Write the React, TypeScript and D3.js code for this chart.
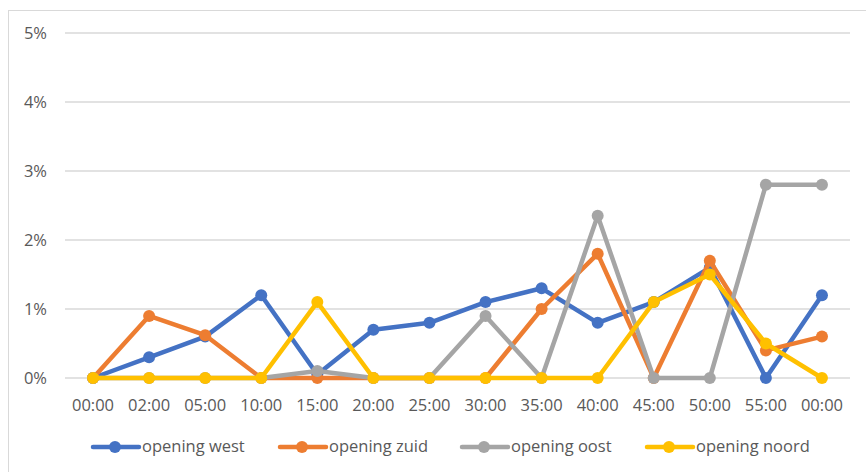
import React from "react";
import * as d3 from "d3";

const categories = ["00:00", "02:00", "05:00", "10:00", "15:00", "20:00", "25:00", "30:00", "35:00", "40:00", "45:00", "50:00", "55:00", "00:00"];
const seriesNames = ["opening west", "opening zuid", "opening oost", "opening noord"];
const west = [0, 0.3, 0.6, 1.2, 0.05, 0.7, 0.8, 1.1, 1.3, 0.8, 1.1, 1.6, 0, 1.2];
const zuid = [0, 0.9, 0.62, 0, 0, 0, 0, 0, 1.0, 1.8, 0, 1.7, 0.4, 0.6];
const oost = [0, 0, 0, 0, 0.1, 0, 0, 0.9, 0, 2.35, 0, 0, 2.8, 2.8];
const noord = [0, 0, 0, 0, 1.1, 0, 0, 0, 0, 0, 1.1, 1.5, 0.5, 0];
const yTicks = [0, 1, 2, 3, 4, 5];
const colors = ["#4472C4", "#ED7D31", "#A5A5A5", "#FFC000"];

const W = 866, H = 472;
const left = 65, right = 850, top = 33, bottom = 378;

export default function App() {
  const x = d3.scaleBand<number>().domain(d3.range(categories.length)).range([left, right]);
  const cx = (i: number) => (x(i) as number) + x.bandwidth() / 2;
  const y = d3.scaleLinear().domain([0, 5]).range([bottom, top]);
  const all = [west, zuid, oost, noord];
  const line = d3.line<number>().x((_, i) => cx(i)).y((d) => y(d));
  const font = "'Open Sans', 'Liberation Sans', sans-serif";
  const legendX = [93, 280, 462, 647];
  return (
    <svg width={W} height={H} style={{ position: "absolute", left: 0, top: 0 }}>
      <rect x={0} y={0} width={W} height={H} fill="#fff" />
      <rect x={8.5} y={10.5} width={W + 10} height={H + 10} fill="#fff" stroke="#d9d9d9" strokeWidth={1} />
      {yTicks.map((t) => (
        <g key={t}>
          <line x1={left} x2={right} y1={y(t)} y2={y(t)} stroke="#d9d9d9" strokeWidth={1.5} />
          <text x={47} y={y(t)} dy="0.35em" textAnchor="end" fontFamily={font} fontSize={16.5} fill="#595959">
            {t}%
          </text>
        </g>
      ))}
      {categories.map((c, i) => (
        <text key={i} x={cx(i)} y={405} dy="0.35em" textAnchor="middle" fontFamily={font} fontSize={16.5} fill="#595959">
          {c}
        </text>
      ))}
      {all.map((s, k) => (
        <g key={k}>
          <path d={line(s) || ""} fill="none" stroke={colors[k]} strokeWidth={4.5} strokeLinejoin="round" />
          {s.map((v, i) => (
            <circle key={i} cx={cx(i)} cy={y(v)} r={6} fill={colors[k]} />
          ))}
        </g>
      ))}
      {seriesNames.map((n, k) => (
        <g key={n}>
          <line x1={legendX[k]} x2={legendX[k] + 46} y1={447} y2={447} stroke={colors[k]} strokeWidth={4.5} strokeLinecap="round" />
          <circle cx={legendX[k] + 22} cy={447} r={6} fill={colors[k]} />
          <text x={legendX[k] + 49} y={446} dy="0.35em" fontFamily={font} fontSize={16.5} fill="#595959">
            {n}
          </text>
        </g>
      ))}
    </svg>
  );
}
